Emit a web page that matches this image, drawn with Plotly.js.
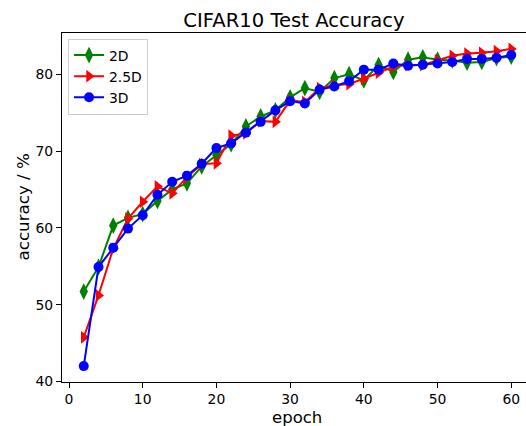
<!DOCTYPE html>
<html>
<head>
<meta charset="utf-8">
<script src="https://cdn.plot.ly/plotly-3.0.1.min.js"></script>
<style>html,body{margin:0;padding:0;background:#fff;}#chart{width:526px;height:426px;}</style>
</head>
<body>
<div id="chart"></div>
<script>
var epochs = [2,4,6,8,10,12,14,16,18,20,22,24,26,28,30,32,34,36,38,40,42,44,46,48,50,52,54,56,58,60];
var acc2D  = [51.7,54.9,60.3,61.3,61.8,63.5,65.0,65.8,68.0,69.5,70.9,73.2,74.5,75.3,77.0,78.2,77.7,79.5,80.0,79.2,81.2,80.3,81.9,82.2,81.9,81.8,81.5,81.6,82.1,82.3];
var acc25D = [45.75,51.2,57.3,61.2,63.4,65.4,64.5,66.6,68.3,68.4,72.0,72.3,73.9,73.8,76.6,76.4,78.2,78.6,78.7,79.4,80.2,81.0,81.2,81.2,81.8,82.4,82.7,82.8,83.0,83.3];
var acc3D  = [42.0,54.9,57.4,59.9,61.65,64.3,66.0,66.8,68.35,70.4,71.0,72.4,73.8,75.3,76.5,76.2,78.0,78.4,79.1,80.6,80.6,81.4,81.1,81.25,81.4,81.6,82.0,82.0,82.15,82.5];
var seriesNames = ["2D","2.5D","3D"];
var xTicks = [0,10,20,30,40,50,60];
var yTicks = [40,50,60,70,80];

var traces = [
  {x: epochs, y: acc2D, name: seriesNames[0], mode: "lines+markers",
   line: {color: "#008000", width: 2}, marker: {symbol: "diamond-tall", size: 12, color: "#008000"}},
  {x: epochs, y: acc25D, name: seriesNames[1], mode: "lines+markers",
   line: {color: "#ff0000", width: 2}, marker: {symbol: "triangle-right", size: 11, color: "#ff0000"}},
  {x: epochs, y: acc3D, name: seriesNames[2], mode: "lines+markers",
   line: {color: "#0000ff", width: 2}, marker: {symbol: "circle", size: 10, color: "#0000ff"}}
];

var font = "DejaVu Sans, sans-serif";
var layout = {
  width: 526, height: 426,
  margin: {l: 62, r: 0, t: 32.5, b: 43.5},
  paper_bgcolor: "#fff", plot_bgcolor: "#fff",
  font: {family: font, color: "#000", size: 13.9},
  title: {text: "CIFAR10 Test Accuracy", font: {family: font, size: 19.6, color: "#000"},
          x: 0.5, xref: "paper", y: 0.953, yref: "container", yanchor: "middle"},
  showlegend: true,
  legend: {x: 0.013, y: 0.984, xanchor: "left", yanchor: "top", bgcolor: "rgba(255,255,255,0.8)",
           bordercolor: "#cccccc", borderwidth: 1, font: {family: font, size: 13.9, color: "#000"},
           tracegroupgap: 0},
  xaxis: {range: [-0.95, 62.0], tickvals: xTicks, ticks: "outside", ticklen: 4.5,
          tickcolor: "#000", showgrid: false, zeroline: false, showline: true, linecolor: "#000",
          linewidth: 1, mirror: true,
          tickfont: {family: font, size: 13.9, color: "#000"}},
  yaxis: {range: [39.93, 85.37], tickvals: yTicks, ticks: "outside", ticklen: 5,
          tickcolor: "#000", showgrid: false, zeroline: false, showline: true, linecolor: "#000",
          linewidth: 1, mirror: false,
          tickfont: {family: font, size: 13.9, color: "#000"}},
  annotations: [
    {text: "epoch", xref: "paper", yref: "paper", x: 0.506, y: -0.1005, xanchor: "center", yanchor: "middle",
     showarrow: false, borderpad: 0, font: {family: font, size: 16.5, color: "#000"}},
    {text: "accuracy / %", xref: "paper", yref: "paper", x: -0.0862, y: 0.5, xanchor: "center", yanchor: "middle",
     textangle: -90, showarrow: false, font: {family: font, size: 16.7, color: "#000"}}
  ]
};
Plotly.newPlot("chart", traces, layout, {displayModeBar: false, staticPlot: true});
</script>
</body>
</html>
